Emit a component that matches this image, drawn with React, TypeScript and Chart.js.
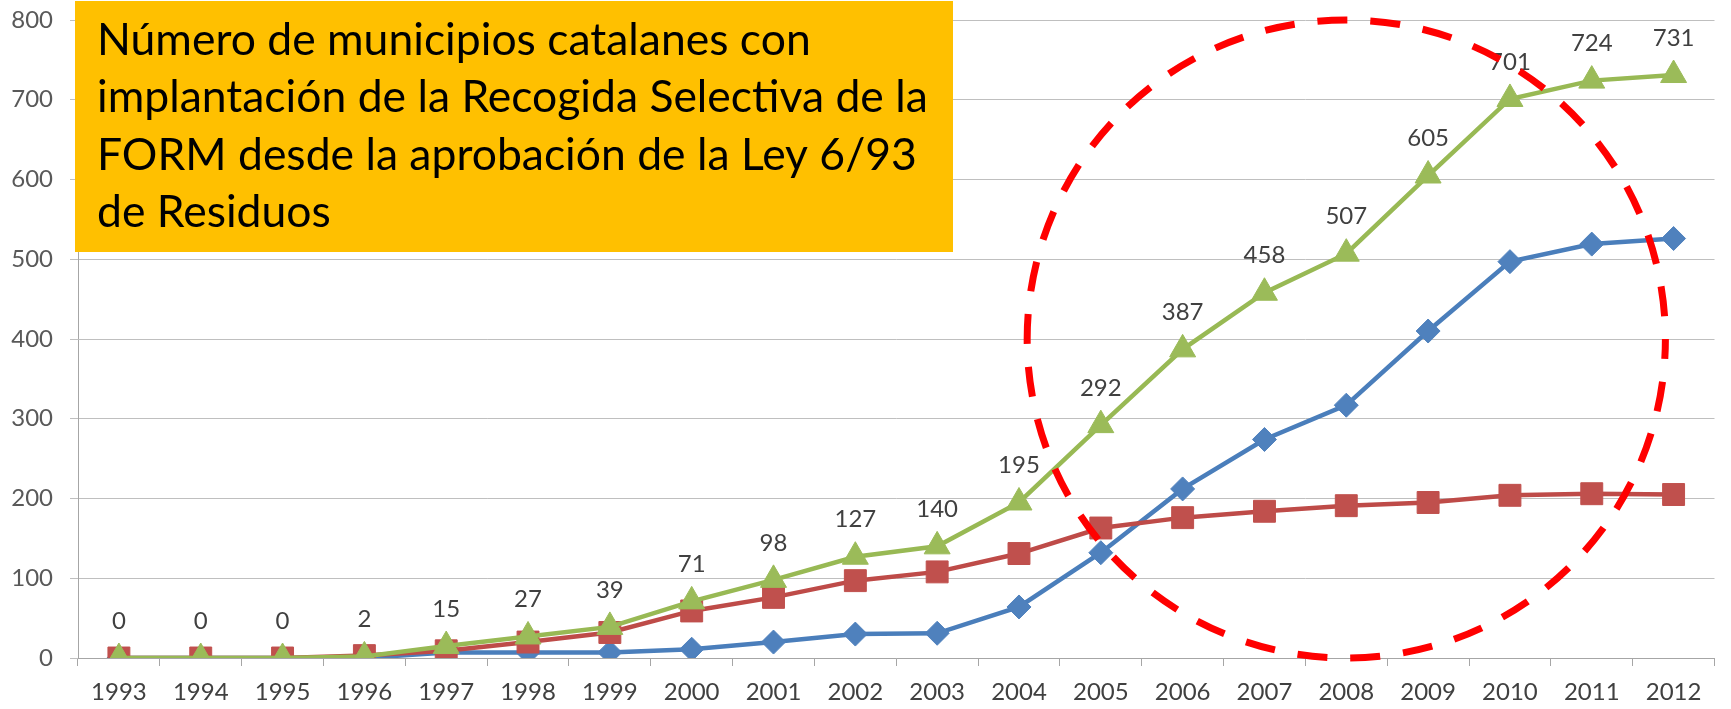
import React, { useEffect, useRef } from "react";
import { Chart, registerables } from "chart.js";

Chart.register(...registerables);

// ---- data ----
const years = [
  "1993", "1994", "1995", "1996", "1997", "1998", "1999", "2000", "2001", "2002",
  "2003", "2004", "2005", "2006", "2007", "2008", "2009", "2010", "2011", "2012",
];
const serieAzul = [0, 0, 0, 0, 7, 7, 7, 11, 20, 30, 31, 64, 132, 212, 274, 317, 410, 497, 519, 526];
const serieRoja = [0, 0, 0, 3, 9, 20, 32, 59, 76, 97, 108, 131, 163, 176, 184, 191, 195, 204, 206, 205];
const serieVerde = [0, 0, 0, 2, 15, 27, 39, 71, 98, 127, 140, 195, 292, 387, 458, 507, 605, 701, 724, 731];
const yMin = 0;
const yMax = 800;
const yStep = 100;
const titleLines = [
  "Número de municipios catalanes con",
  "implantación de la Recogida Selectiva de la",
  "FORM desde la aprobación de la Ley 6/93",
  "de Residuos",
];
// highlighted region (dashed ellipse) in data units
const highlightCenterYear = "2008";
const highlightCenterValue = 400;
const highlightRadiusCategories = 3.9;
const highlightRadiusValue = 400;

const FONT = "Lato, 'Open Sans', sans-serif";

const dataLabelPlugin = {
  id: "dataLabels",
  afterDatasetsDraw(chart: any) {
    const ctx = chart.ctx;
    const idx = chart.data.datasets.findIndex((d: any) => d.showLabels);
    if (idx < 0) return;
    const meta = chart.getDatasetMeta(idx);
    const values = chart.data.datasets[idx].data;
    ctx.save();
    ctx.font = `24px ${FONT}`;
    ctx.fillStyle = "#404040";
    ctx.textAlign = "center";
    ctx.textBaseline = "middle";
    meta.data.forEach((el: any, i: number) => {
      ctx.fillText(String(values[i]), el.x, el.y - 37);
    });
    ctx.restore();
  },
};

const overlayPlugin = {
  id: "overlay",
  afterDraw(chart: any) {
    const ctx = chart.ctx;
    const xs = chart.scales.x;
    const ys = chart.scales.y;
    ctx.save();
    // title box
    const boxL = 75, boxT = 1, boxR = 953, boxB = 252;
    ctx.fillStyle = "#FFC000";
    ctx.fillRect(boxL, boxT, boxR - boxL, boxB - boxT);
    ctx.font = `46px ${FONT}`;
    const w = ctx.measureText(titleLines[1]).width;
    const size = (46 * 831) / w;
    ctx.font = `${size}px ${FONT}`;
    ctx.fillStyle = "#000000";
    ctx.textAlign = "left";
    ctx.textBaseline = "alphabetic";
    const baselines = [55, 112, 170, 227];
    titleLines.forEach((line, i) => ctx.fillText(line, 97, baselines[i]));

    // dashed ellipse
    const ci = years.indexOf(highlightCenterYear);
    const cx = xs.getPixelForValue(ci);
    const catW = xs.getPixelForValue(1) - xs.getPixelForValue(0);
    const rx = highlightRadiusCategories * catW;
    const cy = ys.getPixelForValue(highlightCenterValue);
    const ry = Math.abs(ys.getPixelForValue(highlightCenterValue - highlightRadiusValue) - cy);
    ctx.beginPath();
    ctx.ellipse(cx, cy, rx, ry, 0, 0, Math.PI * 2);
    ctx.strokeStyle = "#FF0000";
    ctx.lineWidth = 7;
    ctx.setLineDash([30, 23]);
    ctx.lineDashOffset = 10;
    ctx.stroke();
    ctx.restore();
  },
};

export default function App() {
  const canvasRef = useRef<HTMLCanvasElement | null>(null);

  useEffect(() => {
    if (!canvasRef.current) return;
    const chart = new Chart(canvasRef.current, {
      type: "line",
      data: {
        labels: years,
        datasets: [
          {
            label: "Serie 1",
            data: serieAzul,
            borderColor: "#4A7EBB",
            backgroundColor: "#4F81BD",
            pointBackgroundColor: "#4F81BD",
            pointBorderColor: "#4F81BD",
            pointStyle: "rectRot",
            pointRadius: 12,
            pointBorderWidth: 1,
            borderWidth: 4.5,
            tension: 0,
            order: 2,
          },
          {
            label: "Serie 2",
            data: serieRoja,
            borderColor: "#BE4B48",
            backgroundColor: "#C0504D",
            pointBackgroundColor: "#C0504D",
            pointBorderColor: "#C0504D",
            pointStyle: "rect",
            pointRadius: 15.5,
            pointBorderWidth: 1,
            borderWidth: 4.5,
            tension: 0,
            order: 1,
          },
          {
            label: "Total",
            data: serieVerde,
            borderColor: "#98B954",
            backgroundColor: "#9BBB59",
            pointBackgroundColor: "#9BBB59",
            pointBorderColor: "#9BBB59",
            pointStyle: "triangle",
            pointRadius: 15,
            pointBorderWidth: 1,
            borderWidth: 4.5,
            tension: 0,
            order: 0,
            showLabels: true,
          } as any,
        ],
      },
      options: {
        animation: false,
        responsive: true,
        maintainAspectRatio: false,
        events: [],
        layout: { padding: { top: 20, right: 2, bottom: 0, left: 0 } },
        plugins: {
          legend: { display: false },
          tooltip: { enabled: false },
          title: { display: false },
        },
        scales: {
          x: {
            offset: true,
            grid: {
              offset: true,
              drawOnChartArea: false,
              drawTicks: true,
              tickLength: 8,
              color: "#A6A6A6",
              lineWidth: 1,
            },
            border: { display: true, color: "#A6A6A6", width: 1 },
            ticks: {
              color: "#404040",
              font: { family: FONT, size: 24 },
              padding: 12,
              maxRotation: 0,
              autoSkip: false,
            },
            afterFit: (s: any) => {
              s.height = 51;
              s.paddingLeft = 0;
              s.paddingRight = 0;
            },
          },
          y: {
            min: yMin,
            max: yMax,
            ticks: {
              stepSize: yStep,
              color: "#595959",
              font: { family: FONT, size: 24 },
              padding: 17,
            },
            grid: { color: "#BFBFBF", lineWidth: 1, tickLength: 8, drawTicks: true },
            border: { display: true, color: "#A6A6A6", width: 1 },
            afterFit: (s: any) => {
              s.width = 78;
              s.paddingTop = 0;
              s.paddingBottom = 0;
            },
          },
        },
      },
      plugins: [dataLabelPlugin, overlayPlugin],
    });
    return () => chart.destroy();
  }, []);

  return (
    <div style={{ position: "fixed", left: 0, top: 0, width: "1731px", height: "709px", background: "#fff" }}>
      <canvas ref={canvasRef} />
    </div>
  );
}
